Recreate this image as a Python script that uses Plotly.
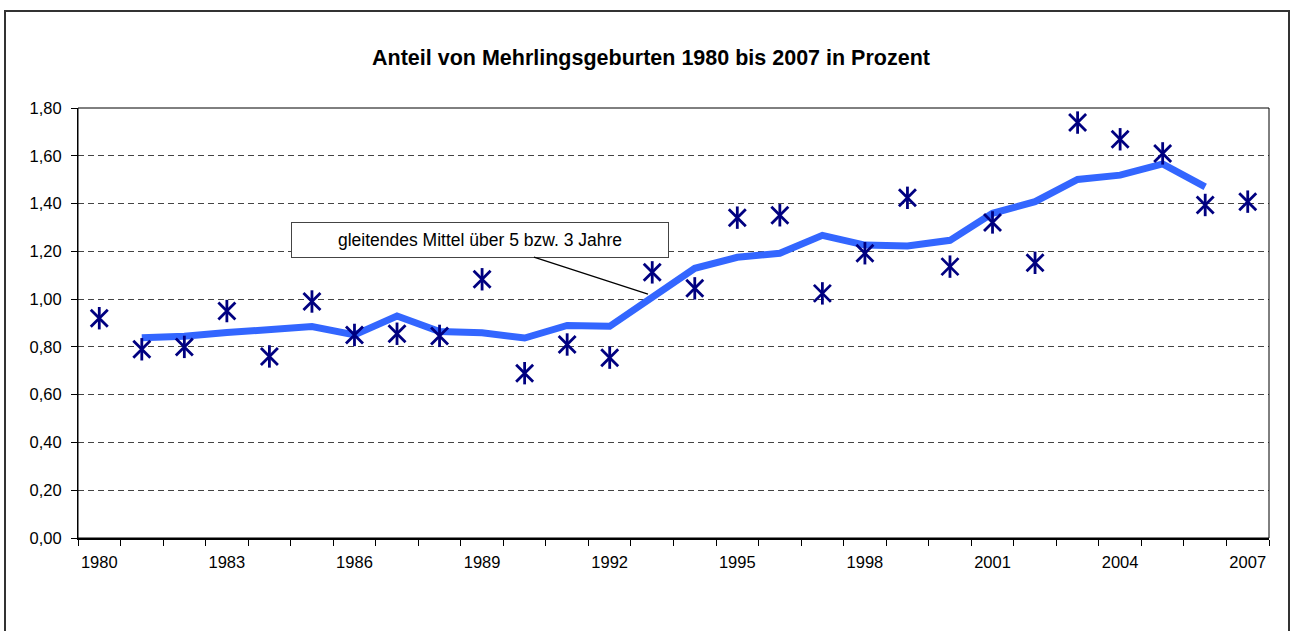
import plotly.graph_objects as go

# Daten
years = list(range(1980, 2008))
anteil = [0.92, 0.79, 0.80, 0.95, 0.76, 0.99, 0.85, 0.855, 0.846, 1.083, 0.69, 0.81,
          0.755, 1.112, 1.045, 1.341, 1.351, 1.024, 1.192, 1.424, 1.136, 1.321,
          1.152, 1.739, 1.669, 1.61, 1.394, 1.408]

ma_years = list(range(1981, 2007))
gleitend = [0.838, 0.845, 0.86, 0.872, 0.885, 0.85, 0.929, 0.864, 0.859, 0.837,
            0.89, 0.886, 1.01, 1.129, 1.175, 1.192, 1.267, 1.226, 1.222, 1.246,
            1.359, 1.408, 1.501, 1.519, 1.566, 1.47]

label_years = years[::3]
y_ticks = [0.0, 0.2, 0.4, 0.6, 0.8, 1.0, 1.2, 1.4, 1.6, 1.8]

FONT = "Liberation Sans, Arial, sans-serif"
NAVY = "#000080"

fig = go.Figure()

fig.add_trace(go.Scatter(
    x=ma_years, y=gleitend, mode="lines",
    line=dict(color="#3366FF", width=7),
    hoverinfo="skip", showlegend=False,
))

# Excel-Marker: X mit senkrechtem Strich
fig.add_trace(go.Scatter(
    x=years, y=anteil, mode="markers",
    marker=dict(symbol="x-thin-open", size=17, color=NAVY, line=dict(color=NAVY, width=2.8)),
    showlegend=False,
))
fig.add_trace(go.Scatter(
    x=years, y=anteil, mode="markers",
    marker=dict(symbol="line-ns-open", size=16, color=NAVY, line=dict(color=NAVY, width=2.8)),
    hoverinfo="skip", showlegend=False,
))

fig.update_layout(
    width=1295, height=631,
    margin=dict(l=78, r=26, t=108, b=93),
    paper_bgcolor="white", plot_bgcolor="white",
    separators=",.",
    font=dict(family=FONT, size=16.5, color="black"),
    title=dict(
        text="<b>Anteil von Mehrlingsgeburten 1980 bis 2007 in Prozent</b>",
        xref="container", x=651 / 1295, xanchor="center",
        yref="container", y=1 - 57 / 631, yanchor="middle",
        font=dict(family=FONT, size=21.5, color="black"),
    ),
)

fig.update_xaxes(
    range=[1979.5, 2007.5],
    tickmode="array", tickvals=label_years, ticktext=[str(y) for y in label_years],
    ticks="", showgrid=False, zeroline=False,
    showline=True, linecolor="black", linewidth=2,
    minor=dict(tickmode="array", tickvals=[y - 0.5 for y in years] + [2007.5],
               ticks="outside", ticklen=6, tickcolor="black", tickwidth=1, showgrid=False),
    ticklabelstandoff=8,
)

fig.update_yaxes(
    range=[0, 1.8], tickmode="array", tickvals=y_ticks, tickformat=".2f",
    ticks="outside", ticklen=6, tickcolor="black", tickwidth=1,
    showline=True, linecolor="black", linewidth=1,
    showgrid=True, gridcolor="#444444", gridwidth=1, griddash="6px,4px",
    zeroline=False, ticklabelstandoff=6,
)

# Rahmen der Zeichenfläche
fig.add_shape(type="rect", xref="paper", yref="paper", x0=0, x1=1, y0=0, y1=1,
              line=dict(color="black", width=1), layer="above")

# äußerer Diagrammrahmen
fig.add_shape(type="rect", xref="paper", yref="paper",
              x0=(5 - 78) / 1191, x1=(1289 - 78) / 1191,
              y0=(538 - 640) / 430, y1=(538 - 11) / 430,
              line=dict(color="#333333", width=2), layer="below")

fig.add_annotation(
    x=1992.9, y=1.021, xref="x", yref="y",
    text="gleitendes Mittel über 5 bzw. 3 Jahre",
    showarrow=True, arrowhead=0, arrowwidth=1.3, arrowcolor="black",
    ax=-168, ay=-54.5, standoff=0,
    width=372, height=30, borderpad=2,
    bordercolor="#444444", borderwidth=1, bgcolor="white",
    font=dict(family=FONT, size=17.5, color="black"),
)

# Seitenrand entfernen, damit die Figur bei (0,0) beginnt
fig.write_html("out.html", config={"displayModeBar": False},
               post_script="document.body.style.margin='0';")
